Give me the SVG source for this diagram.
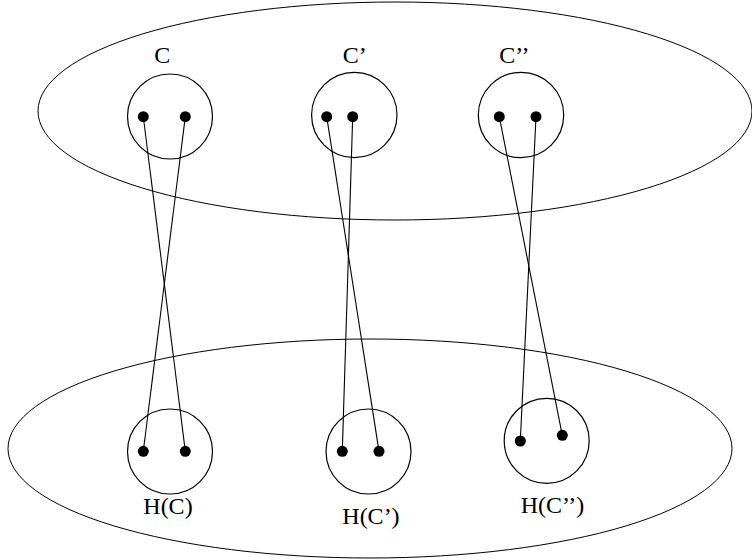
<svg xmlns="http://www.w3.org/2000/svg" width="752" height="560" viewBox="0 0 752 560">
<style>
.set{fill:none;stroke:#000;stroke-width:1}
.node{fill:none;stroke:#000;stroke-width:1.2}
.dot{fill:#000}
.lbl{font-family:"Liberation Serif","Times New Roman",serif;font-size:24px;fill:#000}
.edge{stroke:#000;stroke-width:1.1;fill:none}
</style>
<rect width="752" height="560" fill="#fff"/>
<g id="top-set"><ellipse class="set" cx="395" cy="111" rx="357" ry="109"/></g>
<g id="bottom-set"><ellipse class="set" cx="370" cy="448.5" rx="362" ry="109.5"/></g>
<g id="connectors">
<line class="edge" x1="143.3" y1="116.7" x2="185.3" y2="451.3"/>
<line class="edge" x1="185.3" y1="116.7" x2="143.3" y2="451.3"/>
<line class="edge" x1="326.7" y1="116.7" x2="379" y2="451.3"/>
<line class="edge" x1="352.7" y1="116.7" x2="342.3" y2="451.3"/>
<line class="edge" x1="499.3" y1="116.7" x2="562.3" y2="435.3"/>
<line class="edge" x1="536" y1="116.7" x2="520.3" y2="441"/>
</g>
<g id="C">
<circle class="node" cx="170" cy="116.5" r="42.5"/>
<circle class="dot" cx="143.3" cy="116.7" r="5.5"/>
<circle class="dot" cx="185.3" cy="116.7" r="5.5"/>
<text class="lbl" x="154.3" y="63">C</text>
</g>
<g id="C1">
<circle class="node" cx="354.3" cy="115" r="42.7"/>
<circle class="dot" cx="326.7" cy="116.7" r="5.5"/>
<circle class="dot" cx="352.7" cy="116.7" r="5.5"/>
<text class="lbl" x="342.7" y="63">C’</text>
</g>
<g id="C2">
<circle class="node" cx="521" cy="115" r="42.7"/>
<circle class="dot" cx="499.3" cy="116.7" r="5.5"/>
<circle class="dot" cx="536" cy="116.7" r="5.5"/>
<text class="lbl" x="499.3" y="63">C’’</text>
</g>
<g id="HC">
<circle class="node" cx="170" cy="451.5" r="42.5"/>
<circle class="dot" cx="143.3" cy="451.3" r="5.5"/>
<circle class="dot" cx="185.3" cy="451.3" r="5.5"/>
<text class="lbl" x="143.3" y="514">H(C)</text>
</g>
<g id="HC1">
<circle class="node" cx="368.5" cy="451.5" r="42.5"/>
<circle class="dot" cx="342.3" cy="451.3" r="5.5"/>
<circle class="dot" cx="379" cy="451.3" r="5.5"/>
<text class="lbl" x="342.3" y="524">H(C’)</text>
</g>
<g id="HC2">
<circle class="node" cx="546.7" cy="440.8" r="42.5"/>
<circle class="dot" cx="520.3" cy="441" r="5.5"/>
<circle class="dot" cx="562.3" cy="435.3" r="5.5"/>
<text class="lbl" x="520.7" y="513.3">H(C’’)</text>
</g>
</svg>
